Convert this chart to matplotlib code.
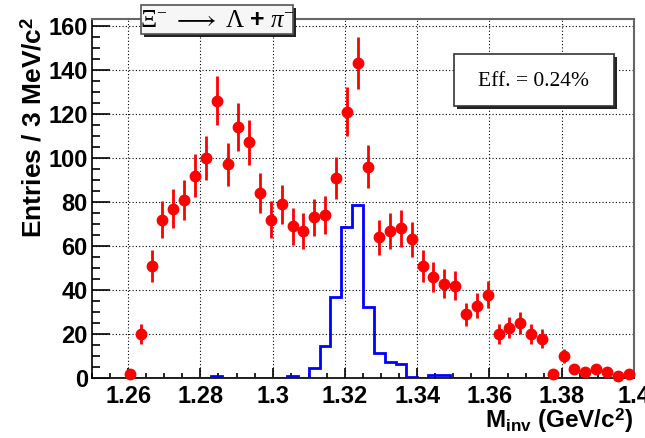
import numpy as np
import matplotlib
matplotlib.use("Agg")
import matplotlib.pyplot as plt
from matplotlib.patches import Rectangle
from matplotlib.ticker import MultipleLocator, FuncFormatter

plt.rcParams['font.family'] = ['Liberation Sans', 'DejaVu Sans']
plt.rcParams['mathtext.fontset'] = 'custom'
plt.rcParams['mathtext.rm'] = 'Liberation Serif'
plt.rcParams['mathtext.it'] = 'Liberation Serif:italic'
plt.rcParams['mathtext.bf'] = 'Liberation Sans:bold'

# 50 bins of 3 MeV between 1.25 and 1.40 GeV
bin_edges = np.round(np.linspace(1.25, 1.40, 51), 4)
bin_centers = 0.5 * (bin_edges[:-1] + bin_edges[1:])

# data (red points), bins 3..49
data_counts = [2, 20, 51, 72, 77, 81, 92, 100, 126, 97,
               114, 107, 84, 72, 79, 69, 67, 73, 74, 91,
               121, 143, 96, 64, 67, 68, 63, 51, 46, 43,
               42, 29, 33, 38, 20, 23, 25, 20, 18, 2,
               10, 4, 3, 4, 3, 1, 2]
data_first_bin = 3

# signal MC (blue histogram), all 50 bins
mc_counts = [0, 0, 0, 0, 0, 0, 0, 0, 0, 0,
             0, 1, 0, 0, 0, 0, 0, 0, 1, 0,
             4.5, 14.7, 36.7, 68.5, 78.5, 32.4, 11.5, 7.3, 6.7, 0.5,
             0, 1.6, 1.6, 0, 0, 0, 0, 0, 0, 0,
             0, 0, 0, 0, 0, 0, 0, 0, 0, 0]

title_text = r'$\Xi^{-}\ \longrightarrow\ \Lambda\ \mathbf{+}\ \pi^{-}$'
eff_text = 'Eff. = 0.24%'

W, H = 645, 438
fig = plt.figure(figsize=(W / 100, H / 100), dpi=100)
ax = fig.add_axes([92 / W, 1 - 378.3 / H, (634 - 92) / W, (378.3 - 19) / H])

ax.stairs(mc_counts, bin_edges, color='blue', lw=2, zorder=3)

x_data = bin_centers[data_first_bin:data_first_bin + len(data_counts)]
y_data = np.array(data_counts, dtype=float)
ax.errorbar(x_data, y_data, yerr=np.sqrt(y_data), fmt='o', color='red',
            ms=7.5, elinewidth=2, capsize=0, zorder=4, clip_on=False)

ax.set_xlim(1.25, 1.40)
ax.set_ylim(0, 163)

ax.xaxis.set_major_locator(MultipleLocator(0.02))
ax.xaxis.set_minor_locator(MultipleLocator(0.005))
ax.yaxis.set_major_locator(MultipleLocator(20))
ax.yaxis.set_minor_locator(MultipleLocator(5))
ax.xaxis.set_major_formatter(FuncFormatter(lambda v, p: '%g' % round(v, 3)))
ax.yaxis.set_major_formatter(FuncFormatter(lambda v, p: '%g' % v))

ax.tick_params(axis='both', which='both', direction='in', top=False, right=False,
               labelsize=17, width=1.2)
ax.tick_params(axis='x', which='major', length=7, pad=5)
ax.tick_params(axis='x', which='minor', length=3.5)
ax.tick_params(axis='y', which='major', length=13, pad=3)
ax.tick_params(axis='y', which='minor', length=6)
for lab in ax.get_xticklabels() + ax.get_yticklabels():
    lab.set_fontweight('bold')

ax.grid(True, which='major', color='black', linestyle=(0, (1, 2)), lw=0.8)
ax.set_axisbelow(True)

for side in ['left', 'bottom']:
    ax.spines[side].set_color('black')
    ax.spines[side].set_linewidth(1.2)
for side in ['top', 'right']:
    ax.spines[side].set_color('#666666')
    ax.spines[side].set_linewidth(1.5)

# axis titles, ROOT style (aligned to the axis ends)
fig.text(33 / W, 1 - 17 / H, r'Entries / 3 MeV/c$^{\mathbf{2}}$', rotation=90,
         ha='center', va='top', fontsize=19, fontweight='bold')
fig.text(633 / W, 1 - 428 / H, r'$\mathbf{M_{inv}}$ (GeV/c$^{\mathbf{2}}$)',
         ha='right', va='baseline', fontsize=17.5, fontweight='bold')

# pave with shadow
def pave(x0, y0, x1, y1, face, edge):
    sh = 2.5
    fig.patches.append(Rectangle(((x0 + sh) / W, 1 - (y1 + sh) / H), (x1 - x0) / W, (y1 - y0) / H,
                                 transform=fig.transFigure, facecolor='#222222',
                                 edgecolor='none', zorder=10))
    fig.patches.append(Rectangle((x0 / W, 1 - y1 / H), (x1 - x0) / W, (y1 - y0) / H,
                                 transform=fig.transFigure, facecolor=face,
                                 edgecolor=edge, lw=1.2, zorder=11))

pave(141, 5, 293, 34, '#f6f6f6', '#555555')
fig.text(217 / W, 1 - 20 / H, title_text, ha='center', va='center',
         fontsize=18, zorder=12)

pave(454, 54, 614, 106, 'white', '#333333')
fig.text(534 / W, 1 - 81 / H, eff_text, ha='center', va='center',
         fontsize=15.5, family='Liberation Serif', zorder=12)

fig.savefig('out.png', dpi=100)
